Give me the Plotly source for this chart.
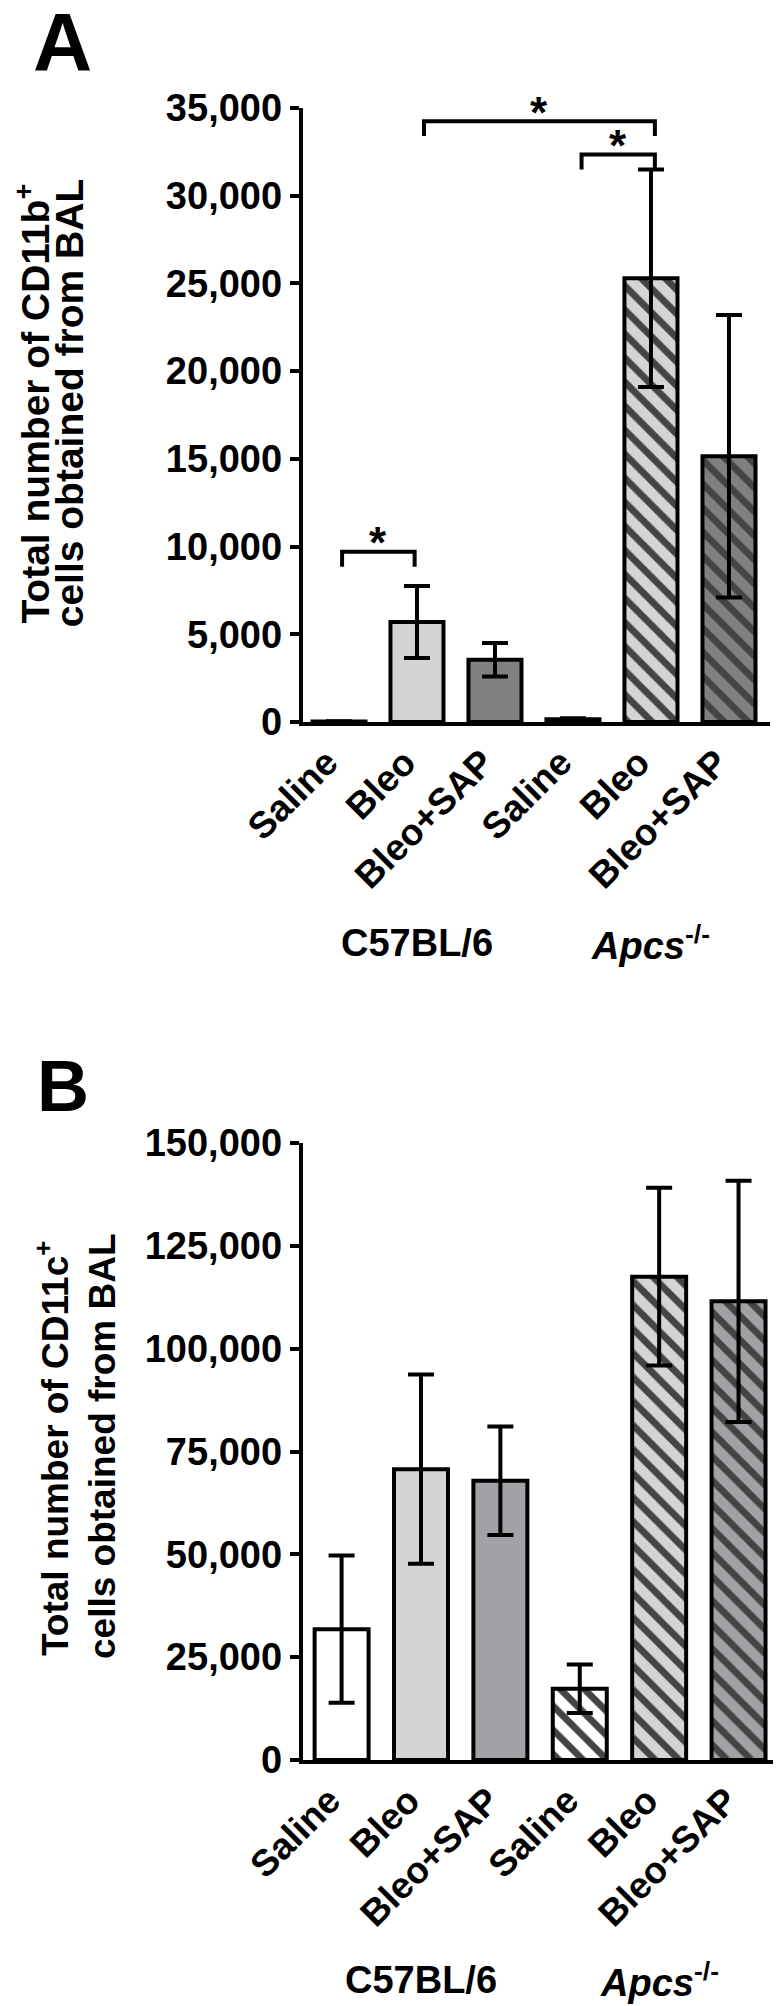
import plotly.graph_objects as go

# ---------------- data ----------------
categories = ["Saline", "Bleo", "Bleo+SAP", "Saline ", "Bleo ", "Bleo+SAP "]
tick_labels = ["Saline", "Bleo", "Bleo+SAP", "Saline", "Bleo", "Bleo+SAP"]
groups = ["C57BL/6", "<i>Apcs</i><sup>-/-</sup>"]

cd11b_mean = [30, 5700, 3550, 150, 25300, 15150]
cd11b_err = [10, 2050, 950, 60, 6200, 8050]

cd11c_mean = [31800, 70700, 67900, 17300, 117500, 111500]
cd11c_err = [17900, 23000, 13200, 5900, 21600, 29300]

fill_a = ["#ffffff", "#d4d4d4", "#808080", "#ffffff", "#d4d4d4", "#808080"]
fill_b = ["#ffffff", "#d4d4d4", "#a2a2a6", "#ffffff", "#d4d4d4", "#a2a2a6"]
hatched = ["", "", "", "\\", "\\", "\\"]

# significance brackets (panel A): left x, right x (category units), height
brackets = [(0.04, 0.97, 9700), (1.09, 4.05, 34250), (3.11, 4.05, 32350)]
bracket_drop = 850

W, H = 781, 2006
FONT = "Liberation Sans"


def px_x(p):
    return p / W


def px_y(p):
    return (H - p) / H


fig = go.Figure()

for vals, errs, fills, xa, ya in [
    (cd11b_mean, cd11b_err, fill_a, "x", "y"),
    (cd11c_mean, cd11c_err, fill_b, "x2", "y2"),
]:
    fig.add_trace(go.Bar(
        x=categories, y=vals, xaxis=xa, yaxis=ya, width=0.68,
        marker=dict(
            color=fills,
            line=dict(color="black", width=4),
            pattern=dict(shape=hatched, fgcolor="black", fgopacity=1,
                         size=17, solidity=0.4, fillmode="overlay"),
        ),
        error_y=dict(type="data", array=errs, visible=True, color="black",
                     thickness=4, width=13),
        showlegend=False,
    ))

axis_common = dict(
    showline=True, linecolor="black", linewidth=4, showgrid=False,
    zeroline=False, automargin=False,
)

tickfont = dict(family=FONT, size=38, color="black", weight="bold")
xtickfont = dict(family=FONT, size=37, color="black", weight="bold")

fig.update_layout(
    width=W, height=H, autosize=False,
    margin=dict(l=0, r=0, t=0, b=0),
    paper_bgcolor="white", plot_bgcolor="white",
    xaxis=dict(domain=[px_x(294.7), px_x(762)], anchor="y",
               range=[-0.465, 5.526], type="category",
               tickmode="array", tickvals=categories, ticktext=tick_labels,
               tickangle=-45, ticks="",
               tickfont=xtickfont, **axis_common),
    yaxis=dict(domain=[px_y(714), px_y(100)], anchor="x",
               range=[0, 35000], tickvals=[0, 5000, 10000, 15000, 20000, 25000, 30000, 35000],
               tickformat=",", ticks="outside", ticklen=9, tickwidth=4,
               tickcolor="black", tickfont=tickfont, **axis_common),
    xaxis2=dict(domain=[px_x(294.7), px_x(775)], anchor="y2",
                range=[-0.49, 5.56], type="category",
                tickmode="array", tickvals=categories, ticktext=tick_labels,
                tickangle=-45, ticks="",
                tickfont=xtickfont, **axis_common),
    yaxis2=dict(domain=[px_y(1752), px_y(1135)], anchor="x2",
                range=[0, 150000], tickvals=[0, 25000, 50000, 75000, 100000, 125000, 150000],
                tickformat=",", ticks="outside", ticklen=9, tickwidth=4,
                tickcolor="black", tickfont=tickfont, **axis_common),
)
fig.update_xaxes(ticklabelshift=-12)

# brackets + stars
shapes = []
annotations = []
for x0, x1, h in brackets:
    shapes.append(dict(type="path", xref="x", yref="y",
                       path=f"M {x0},{h - bracket_drop} L {x0},{h} L {x1},{h} L {x1},{h - bracket_drop}",
                       line=dict(color="black", width=4)))
    annotations.append(dict(x=(x0 + x1) / 2, y=h, xref="x", yref="y", text="*",
                            showarrow=False, yanchor="middle", xanchor="center",
                            yshift=9, font=dict(family=FONT, size=44, color="black", weight="bold")))
fig.update_layout(shapes=shapes)

bold = lambda s: dict(family=FONT, size=s, color="black", weight="bold")

# panel letters
annotations.append(dict(x=px_x(54), y=px_y(34), xref="paper", yref="paper", text="A",
                        showarrow=False, font=bold(82), xanchor="center", yanchor="middle"))
annotations.append(dict(x=px_x(55), y=px_y(1078), xref="paper", yref="paper", text="B",
                        showarrow=False, font=bold(72), xanchor="center", yanchor="middle"))

# y titles (two lines each)
for txt, cx, cy, fs in [
    ("Total number of CD11b<sup>+</sup>", 24.6, 396, 39),
    ("cells obtained from BAL", 61.3, 395, 39),
    ("Total number of CD11c<sup>+</sup>", 44, 1441, 37),
    ("cells obtained from BAL", 94, 1438, 37),
]:
    annotations.append(dict(x=px_x(cx), y=px_y(cy), xref="paper", yref="paper", text=txt,
                            textangle=-90, showarrow=False, font=bold(fs),
                            xanchor="center", yanchor="middle"))

# group labels
for xr, py in [("x", 935), ("x2", 1972)]:
    for gi, g in enumerate(groups):
        annotations.append(dict(x=categories[1 + 3 * gi], y=px_y(py), xref=xr, yref="paper",
                                text=g, showarrow=False, font=bold(38),
                                xanchor="center", yanchor="middle"))

fig.update_layout(annotations=annotations)

fig.write_html("out.html")
